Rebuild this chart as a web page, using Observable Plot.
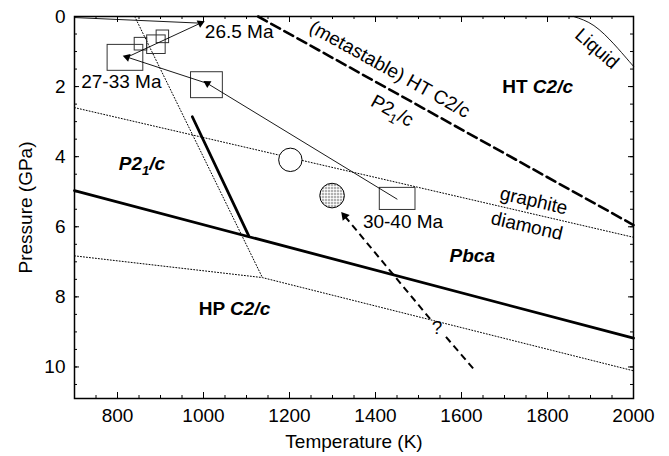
<!DOCTYPE html>
<html>
<head>
<meta charset="utf-8">
<script src="https://cdn.jsdelivr.net/npm/d3@7"></script>
<script src="https://cdn.jsdelivr.net/npm/@observablehq/plot@0.6"></script>
<style>
  html, body { margin: 0; padding: 0; background: #fff; }
  #chart svg { display: block; }
</style>
</head>
<body>
<div id="chart"></div>
<script>
// ---------------- data ----------------
const xTickValues = [800, 1000, 1200, 1400, 1600, 1800, 2000];
const yTickValues = [0, 2, 4, 6, 8, 10];
const xMinorTicks = d3.range(700, 2001, 50);
const yMinorTicks = d3.range(0, 10.9, 0.5);
const xDomain = [700, 2000];
const yDomain = [0, 10.9];

// thick solid phase boundary P21/c | Pbca -- HP C2/c
const mainBoundaryT = [700, 2000];
const mainBoundaryP = [4.97, 9.18];
// short thick solid boundary P21/c | Pbca
const shortBoundaryT = [974, 1105];
const shortBoundaryP = [2.86, 6.25];
// thick dashed (metastable) HT C2/c | P21/c
const htBoundaryT = [1127, 2000];
const htBoundaryP = [0, 5.95];
// dotted graphite / diamond
const graphiteT = [700, 2000];
const graphiteP = [2.6, 6.3];
// dotted steep line
const steepDotT = [840, 1137];
const steepDotP = [0, 7.45];
// dotted lower line (kinked)
const lowerDotT = [700, 1137, 2000];
const lowerDotP = [6.83, 7.45, 10.11];
// liquid curve
const liquidT = [1861, 1908, 1954, 1985, 2000];
const liquidP = [0, 0.26, 0.78, 1.21, 1.42];

// P-T path (30-40 Ma -> 27-33 Ma -> 26.5 Ma -> surface)
const pathT = [1450, 1009, 822.5, 993, 700];
const pathP = [5.21, 1.91, 1.16, 0.19, 0.03];
const pathArrowAt = [false, true, true, true, false];

// dashed arrow with "?"
const dashArrowT = [1627, 1558, 1527, 1328];
const dashArrowP = [10.04, 9.06, 8.63, 5.69];

// rectangles (T1,T2,P1,P2)
const boxT1 = [777, 840, 869, 891, 971, 1410];
const boxT2 = [860, 869, 912, 920, 1045, 1493];
const boxP1 = [0.81, 0.61, 0.54, 0.40, 1.59, 4.89];
const boxP2 = [1.55, 0.97, 1.07, 0.76, 2.33, 5.52];

// circles
const openCircleT = [1202];
const openCircleP = [4.09];
const stippleCircleT = [1299];
const stippleCircleP = [5.11];

// labels
const labelText = ["26.5 Ma", "27-33 Ma", "30-40 Ma", "(metastable) HT C2/c", "P2₁/c", "Liquid", "graphite", "diamond", "?"];
const labelT = [1083, 809, 1464, 1433, 1439, 1915, 1768, 1752, 1543];
const labelP = [0.43, 1.88, 5.86, 1.51, 2.69, 0.92, 5.26, 5.98, 8.88];
const labelAngle = [0, 0, 0, 29, 29, 41, 13, 13, 0];

const boldText = ["HT C2/c", "HP C2/c"];
const boldT = [1777, 1072];
const boldP = [2.02, 8.33];

const boldItalicText = ["P2₁/c", "Pbca"];
const boldItalicT = [857, 1625];
const boldItalicP = [4.2, 6.83];

// ---------------- helpers ----------------
const pts = (T, P) => T.map((t, i) => ({T: t, P: P[i]}));
const segs = (T, P, pairs) => pairs.map(([a, b]) => ({T1: T[a], P1: P[a], T2: T[b], P2: P[b]}));

const base = {
  width: 669,
  height: 456,
  marginTop: 16,
  marginRight: 36,
  marginBottom: 58,
  marginLeft: 74,
  x: {domain: xDomain},
  y: {domain: yDomain, reverse: true},
  style: {
    fontFamily: "'Liberation Sans', Arial, Helvetica, sans-serif",
    fontSize: "19px",
    color: "black",
    background: "white",
    overflow: "visible"
  }
};

// first pass to get the scales (arrow-head orientation, tick lengths)
const probe = Plot.plot({...base, marks: [Plot.frame()]});
const sx = probe.scale("x"), sy = probe.scale("y");
const angleOf = (t1, p1, t2, p2) =>
  Math.atan2(sy.apply(p2) - sy.apply(p1), sx.apply(t2) - sx.apply(t1)) * 180 / Math.PI + 90;
const dxPx = (t, px) => sx.invert(sx.apply(t) + px);
const dyPx = (p, px) => sy.invert(sy.apply(p) + px);

const heads = [];
pathT.forEach((t, i) => {
  if (pathArrowAt[i]) heads.push({T: t, P: pathP[i], a: angleOf(pathT[i - 1], pathP[i - 1], t, pathP[i]), r: 3.2});
});
heads.push({T: dashArrowT[3], P: dashArrowP[3], a: angleOf(dashArrowT[2], dashArrowP[2], dashArrowT[3], dashArrowP[3]), r: 4});

const boxes = boxT1.map((t, i) => ({T1: t, T2: boxT2[i], P1: boxP1[i], P2: boxP2[i]}));
const labels = labelText.map((s, i) => ({s, T: labelT[i], P: labelP[i], a: labelAngle[i]}));
const boldLabels = boldText.map((s, i) => ({s, T: boldT[i], P: boldP[i]}));
const boldItalicLabels = boldItalicText.map((s, i) => ({s, T: boldItalicT[i], P: boldItalicP[i]}));

const [x0, x1] = xDomain, [y0, y1] = yDomain;
const tickRuleX = (values, len) => [
  Plot.ruleX(values, {x: d => d, y1: y1, y2: dyPx(y1, -len), stroke: "black", strokeWidth: 1}),
  Plot.ruleX(values, {x: d => d, y1: y0, y2: dyPx(y0, len), stroke: "black", strokeWidth: 1})
];
const tickRuleY = (values, len) => [
  Plot.ruleY(values, {y: d => d, x1: x0, x2: dxPx(x0, len), stroke: "black", strokeWidth: 1}),
  Plot.ruleY(values, {y: d => d, x1: x1, x2: dxPx(x1, -len), stroke: "black", strokeWidth: 1})
];

const chart = Plot.plot({
  ...base,
  marks: [
    // axes: labels only
    Plot.axisX({anchor: "bottom", ticks: xTickValues, tickSize: 0, tickPadding: 10, fontSize: 19,
      tickFormat: d => String(d),
      label: "Temperature (K)", labelAnchor: "center", labelOffset: 49, labelArrow: "none"}),
    Plot.axisY({anchor: "left", ticks: yTickValues, tickSize: 0, tickPadding: 9, fontSize: 19,
      tickFormat: d => String(d),
      label: "Pressure (GPa)", labelAnchor: "center", labelOffset: 56, labelArrow: "none"}),
    // inward ticks on all four sides
    ...tickRuleX(xMinorTicks, 3),
    ...tickRuleX(xTickValues, 6),
    ...tickRuleY(yMinorTicks, 3),
    ...tickRuleY(yTickValues, 5),

    // dotted lines
    Plot.line(pts(graphiteT, graphiteP), {x: "T", y: "P", stroke: "black", strokeWidth: 1, strokeDasharray: "1,2"}),
    Plot.line(pts(steepDotT, steepDotP), {x: "T", y: "P", stroke: "black", strokeWidth: 1, strokeDasharray: "1,2"}),
    Plot.line(pts(lowerDotT, lowerDotP), {x: "T", y: "P", stroke: "black", strokeWidth: 1, strokeDasharray: "1,2"}),

    // liquid
    Plot.line(pts(liquidT, liquidP), {x: "T", y: "P", stroke: "black", strokeWidth: 0.9, curve: "natural"}),

    // thick boundaries
    Plot.line(pts(mainBoundaryT, mainBoundaryP), {x: "T", y: "P", stroke: "black", strokeWidth: 2.8}),
    Plot.line(pts(shortBoundaryT, shortBoundaryP), {x: "T", y: "P", stroke: "black", strokeWidth: 2.8}),
    Plot.line(pts(htBoundaryT, htBoundaryP), {x: "T", y: "P", stroke: "black", strokeWidth: 2.6, strokeDasharray: "10,5"}),

    // dashed arrow with gap for "?"
    Plot.link(segs(dashArrowT, dashArrowP, [[0, 1], [2, 3]]), {x1: "T1", y1: "P1", x2: "T2", y2: "P2",
      stroke: "black", strokeWidth: 2, strokeDasharray: "7,4.5"}),

    // rectangles
    Plot.rect(boxes, {x1: "T1", x2: "T2", y1: "P1", y2: "P2", fill: "none", stroke: "#333", strokeWidth: 1}),

    // P-T path
    Plot.line(pts(pathT, pathP), {x: "T", y: "P", stroke: "black", strokeWidth: 0.9}),

    // arrow heads
    Plot.dot(heads, {x: "T", y: "P", symbol: "triangle", r: "r", rotate: "a", fill: "black", stroke: "none"}),

    // circles
    Plot.dot(pts(openCircleT, openCircleP), {x: "T", y: "P", r: 11.7, fill: "white", stroke: "black", strokeWidth: 1}),
    Plot.dot(pts(stippleCircleT, stippleCircleP), {x: "T", y: "P", r: 12.3, fill: "url(#stipple)", stroke: "black", strokeWidth: 1}),

    // labels
    Plot.text(labels, {x: "T", y: "P", text: "s", rotate: "a", fill: "black", fontSize: 19, textAnchor: "middle", lineAnchor: "middle"}),
    Plot.text(boldLabels, {x: "T", y: "P", text: "s", fill: "black", fontSize: 19, fontWeight: "bold", textAnchor: "middle", lineAnchor: "middle"}),
    Plot.text(boldItalicLabels, {x: "T", y: "P", text: "s", fill: "black", fontSize: 19, fontWeight: "bold", fontStyle: "italic", textAnchor: "middle", lineAnchor: "middle"}),

    Plot.frame({stroke: "black", strokeWidth: 1.5})
  ]
});

// stipple pattern
const defs = d3.select(chart).insert("defs", ":first-child");
const pat = defs.append("pattern").attr("id", "stipple").attr("patternUnits", "userSpaceOnUse")
  .attr("width", 3).attr("height", 3);
pat.append("rect").attr("width", 3).attr("height", 3).attr("fill", "white");
pat.append("circle").attr("cx", 1.5).attr("cy", 1.5).attr("r", 0.75).attr("fill", "#111");

// rich text: subscripts and italic parts; strip any label arrows
d3.select(chart).selectAll("text").each(function () {
  let t = this.textContent;
  const stripped = t.replace(/^[↑↓←→]\s*/, "").replace(/\s*[↑↓←→]$/, "");
  if (stripped !== t && this.children.length === 0) { this.textContent = stripped; t = stripped; }
  let parts = null;
  if (t.includes("₁")) {
    const [a, b] = t.split("₁");
    parts = [[a, null], ["1", "sub"], [b, "unsub"]];
  } else if (t === "HT C2/c" || t === "HP C2/c") {
    parts = [[t.slice(0, 3), null], [t.slice(3), "italic"]];
  }
  if (!parts) return;
  const el = d3.select(this);
  el.text(null);
  parts.forEach(([s, kind]) => {
    const ts = el.append("tspan").text(s);
    if (kind === "sub") ts.attr("dy", 5).attr("font-size", 13);
    if (kind === "unsub") ts.attr("dy", -5);
    if (kind === "italic") ts.attr("font-style", "italic");
  });
});

document.getElementById("chart").appendChild(chart);
</script>
</body>
</html>
